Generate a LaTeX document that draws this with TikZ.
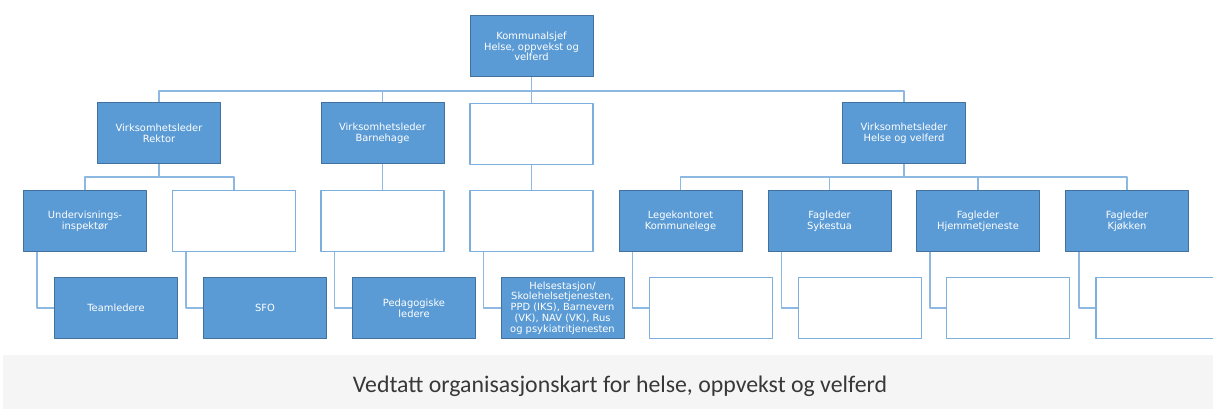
\documentclass[tikz,border=0pt]{standalone}
\usepackage{fontspec}
\setmainfont{DejaVu Sans}
\newfontfamily\capfont{Carlito}
\definecolor{boxblue}{HTML}{5B9BD5}
\definecolor{boxedge}{HTML}{41719C}
\definecolor{linkblue}{HTML}{8DB8E2}
\definecolor{capgray}{HTML}{F5F5F5}
\begin{document}
\begin{tikzpicture}[x=1pt,y=-1pt,line join=round,
	unit/.style={draw=boxedge,line width=1pt,fill=boxblue,text=white,minimum width=123pt,minimum height=61pt,inner sep=1pt,
		align=center,font=\fontsize{9.9}{10.8}\selectfont},
	blank/.style={draw=boxblue!80,line width=1.2pt,fill=white,minimum width=123pt,minimum height=61pt},
	link/.style={draw=linkblue,line width=1.3pt}]
	\useasboundingbox (0,0) rectangle (1213,409);
	\fill[capgray] (3,355) rectangle (1213,409);
	\node[font=\capfont\fontsize{23.8}{28}\selectfont,text=black!78,anchor=base] (caption) at (620,392) {Vedtatt organisasjonskart for helse, oppvekst og velferd};
	% top
	\node[unit] (sjef) at (531.5,46.5) {Kommunalsjef\\Helse, oppvekst og\\velferd};
	% level 1
	\node[unit] (rektor) at (159,133.5) {Virksomhetsleder\\Rektor};
	\node[unit] (barnehage) at (382.5,133.5) {Virksomhetsleder\\Barnehage};
	\node[blank] (tom1) at (531.5,134) {};
	\node[unit] (helse) at (904,133.5) {Virksomhetsleder\\Helse og velferd};
	% level 2
	\node[unit] (inspektor) at (85,221) {Undervisnings-\\inspektør};
	\node[blank] (tom2) at (234,221) {};
	\node[blank] (tom3) at (382.5,221) {};
	\node[blank] (tom4) at (531.5,221) {};
	\node[unit] (lege) at (680.5,221) {Legekontoret\\Kommunelege};
	\node[unit] (sykestua) at (829.5,221) {Fagleder\\Sykestua};
	\node[unit] (hjemme) at (978,221) {Fagleder\\Hjemmetjeneste};
	\node[unit] (kjokken) at (1127,221) {Fagleder\\Kjøkken};
	% level 3
	\node[unit] (team) at (116,308) {Teamledere};
	\node[unit] (sfo) at (265,308) {SFO};
	\node[unit] (ped) at (414,308) {Pedagogiske\\ledere};
	\node[unit] (hst) at (562.5,308) {Helsestasjon/\\Skolehelsetjenesten,\\PPD (IKS), Barnevern\\(VK), NAV (VK), Rus\\og psykiatritjenesten};
	\node[blank] (tom5) at (711,308) {};
	\node[blank] (tom6) at (860,308) {};
	\node[blank] (tom7) at (1008,308) {};
	\node[blank] (tom8) at (1157.5,308) {};
	% connectors
	\coordinate (bus1) at (531.5,91);
	\coordinate (bus2) at (159,177);
	\coordinate (bus3) at (904,177);
	\draw[link] (sjef) -- (bus1);
	\foreach \n in {rektor,barnehage,tom1,helse} \draw[link] (\n.north) |- (bus1);
	\draw[link] (rektor) -- (bus2);
	\foreach \n in {inspektor,tom2} \draw[link] (\n.north) |- (bus2);
	\draw[link] (helse) -- (bus3);
	\foreach \n in {lege,sykestua,hjemme,kjokken} \draw[link] (\n.north) |- (bus3);
	\draw[link] (barnehage) -- (tom3);
	\draw[link] (tom1) -- (tom4);
	\foreach \a/\b in {inspektor/team,tom2/sfo,tom3/ped,tom4/hst,lege/tom5,sykestua/tom6,hjemme/tom7,kjokken/tom8}
		\draw[link] ([xshift=14pt]\a.south west) |- (\b.west);
\end{tikzpicture}
\end{document}
